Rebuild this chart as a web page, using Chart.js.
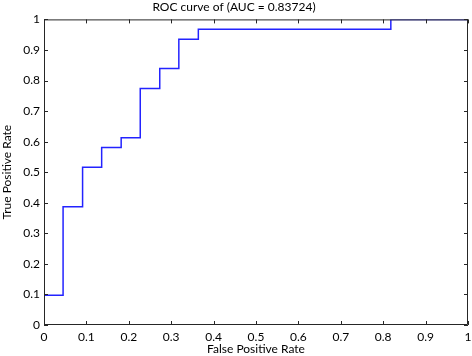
<!DOCTYPE html>
<html>
<head>
<meta charset="utf-8">
<script src="https://cdn.jsdelivr.net/npm/chart.js@4"></script>
<style>
  html, body { margin: 0; padding: 0; background: #fff; }
  #wrap { width: 472px; height: 356px; }
</style>
</head>
<body>
<div id="wrap"><canvas id="roc" width="472" height="356"></canvas></div>
<script>
// ROC curve points (corners of the step curve)
const fpr = [0, 0, 0.045, 0.045, 0.091, 0.091, 0.136, 0.136, 0.182, 0.182, 0.227, 0.227,
             0.273, 0.273, 0.318, 0.318, 0.364, 0.364, 0.818, 0.818, 1];
const tpr = [0.032, 0.097, 0.097, 0.387, 0.387, 0.516, 0.516, 0.581, 0.581, 0.613, 0.613, 0.774,
             0.774, 0.839, 0.839, 0.935, 0.935, 0.968, 0.968, 1, 1];
const xTicks = [0, 0.1, 0.2, 0.3, 0.4, 0.5, 0.6, 0.7, 0.8, 0.9, 1];
const yTicks = [0, 0.1, 0.2, 0.3, 0.4, 0.5, 0.6, 0.7, 0.8, 0.9, 1];
const auc = '0.83724';

const fontFamily = 'Lato, "Open Sans", sans-serif';
const axisColor = '#262626';

// matlab-like box with inward tick marks on all four sides
const boxTicks = {
    id: 'boxTicks',
    afterDraw(chart) {
        const ctx = chart.ctx;
        const a = chart.chartArea;
        const xs = chart.scales.x, ys = chart.scales.y;
        const len = 4;
        ctx.save();
        ctx.strokeStyle = axisColor;
        ctx.lineWidth = 1;
        ctx.beginPath();
        ctx.rect(a.left + 0.5, a.top + 0.5, a.right - a.left - 1, a.bottom - a.top - 1);
        xTicks.forEach(v => {
            const px = Math.round(xs.getPixelForValue(v)) + 0.5;
            ctx.moveTo(px, a.bottom); ctx.lineTo(px, a.bottom - len);
            ctx.moveTo(px, a.top); ctx.lineTo(px, a.top + len);
        });
        yTicks.forEach(v => {
            const py = Math.round(ys.getPixelForValue(v)) + 0.5;
            ctx.moveTo(a.left, py); ctx.lineTo(a.left + len, py);
            ctx.moveTo(a.right, py); ctx.lineTo(a.right - len, py);
        });
        ctx.stroke();
        ctx.restore();
    }
};

const points = fpr.map((x, i) => ({ x: x, y: tpr[i] }));

new Chart(document.getElementById('roc'), {
    type: 'scatter',
    data: {
        datasets: [{
            data: points,
            showLine: true,
            borderColor: '#2323ff',
            borderWidth: 1.5,
            pointRadius: 0,
            fill: false,
            tension: 0
        }]
    },
    options: {
        responsive: false,
        animation: false,
        layout: { padding: { left: 0, right: 4, top: 0, bottom: 0 } },
        plugins: {
            legend: { display: false },
            tooltip: { enabled: false },
            title: {
                display: true,
                text: 'ROC curve of (AUC = ' + auc + ')',
                color: '#000',
                font: { family: fontFamily, size: 12, weight: 'normal' },
                padding: { top: 0, bottom: 5 }
            }
        },
        scales: {
            x: {
                type: 'linear',
                min: 0, max: 1,
                afterBuildTicks: s => { s.ticks = xTicks.map(v => ({ value: v })); },
                afterFit: s => { s.height = 31; s.paddingLeft = 0; s.paddingRight = 0; },
                grid: { display: false, drawTicks: false },
                border: { display: false },
                ticks: {
                    color: '#000',
                    padding: 5,
                    maxRotation: 0,
                    font: { family: fontFamily, size: 12 },
                    callback: v => String(v)
                },
                title: {
                    display: true,
                    text: 'False Positive Rate',
                    color: '#000',
                    font: { family: fontFamily, size: 12 },
                    padding: 0
                }
            },
            y: {
                type: 'linear',
                min: 0, max: 1,
                afterBuildTicks: s => { s.ticks = yTicks.map(v => ({ value: v })); },
                afterFit: s => { s.width = 44; s.paddingTop = 0; s.paddingBottom = 0; },
                grid: { display: false, drawTicks: false },
                border: { display: false },
                ticks: {
                    color: '#000',
                    padding: 4,
                    font: { family: fontFamily, size: 12 },
                    callback: v => String(v)
                },
                title: {
                    display: true,
                    text: 'True Positive Rate',
                    color: '#000',
                    font: { family: fontFamily, size: 12 },
                    padding: 0
                }
            }
        }
    },
    plugins: [boxTicks]
});
</script>
</body>
</html>
